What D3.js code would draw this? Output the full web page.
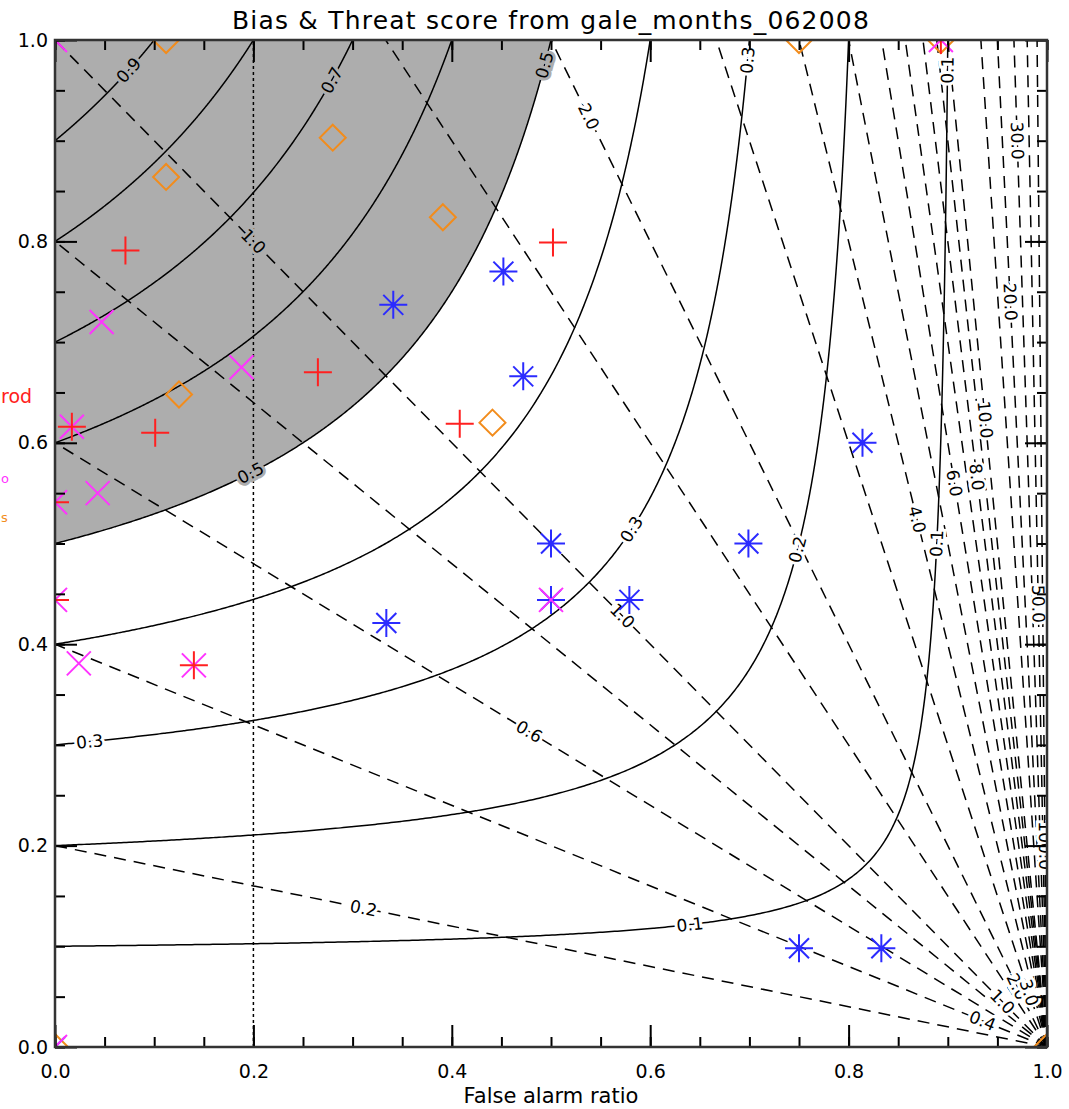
<!DOCTYPE html>
<html>
<head>
<meta charset="utf-8">
<script src="https://cdn.jsdelivr.net/npm/d3@7"></script>
<style>
  body { margin: 0; background: #fff; }
  svg text { font-family: "DejaVu Sans", sans-serif; }
</style>
</head>
<body>
<svg id="chart" width="1069" height="1109"></svg>
<script>
// threat score (CSI) and bias levels drawn as contours
const csiLevels = [0.1, 0.2, 0.3, 0.4, 0.5, 0.6, 0.7, 0.8, 0.9];
const biasLevels = [0.2, 0.4, 0.6, 0.8, 1.0, 1.5, 2.0, 3.0, 4.0, 5.0, 6.0, 7.0, 8.0, 9.0, 10.0, 15.0, 20.0, 30.0, 50.0, 100.0];
const shadeLevel = 0.5;
const xTicks = [0.0, 0.2, 0.4, 0.6, 0.8, 1.0];
const yTicks = [0.0, 0.2, 0.4, 0.6, 0.8, 1.0];

// series: false alarm ratio / probability of detection
const plusFAR = [0.071, 0.502, 0.265, 0.101, 0.408, 0.017, 0.0, 0.0, 0.140, 0.0, 0.893];
const plusPOD = [0.791, 0.799, 0.670, 0.610, 0.619, 0.616, 0.541, 0.444, 0.379, 1.0, 1.0];

const crossFAR = [0.047, 0.188, 0.043, 0.017, 0.0, 0.0, 0.024, 0.140, 0.500, 0.0, 0.893, 0.0];
const crossPOD = [0.720, 0.675, 0.550, 0.616, 0.541, 0.444, 0.381, 0.379, 0.444, 1.0, 1.0, 0.0];

const diamondFAR = [0.112, 0.280, 0.112, 0.391, 0.125, 0.441, 0.750, 0.893, 1.0, 0.0];
const diamondPOD = [0.864, 0.903, 1.0, 0.824, 0.648, 0.620, 1.0, 1.0, 0.0, 0.0];

const starFAR = [0.341, 0.452, 0.472, 0.500, 0.500, 0.579, 0.334, 0.814, 0.699, 0.750, 0.833, 0.0];
const starPOD = [0.737, 0.770, 0.666, 0.500, 0.444, 0.444, 0.421, 0.600, 0.500, 0.098, 0.098, 0.0];

// contour labels: level plus the POD (or FAR) where it sits
const csiLabelLevel = [0.9, 0.7, 0.5, 0.5, 0.3, 0.3, 0.3, 0.2, 0.1, 0.1, 0.1];
const csiLabelAt    = ["y", "y", "y", "y", "x", "y", "y", "y", "y", "y", "x"];
const csiLabelVal   = [0.97, 0.96, 0.975, 0.57, 0.035, 0.98, 0.514, 0.494, 0.97, 0.5, 0.64];

const biasLabelLevel = [1.0, 1.0, 2.0, 0.6, 0.2, 4.0, 6.0, 8.0, 10.0, 20.0, 30.0, 50.0, 100.0, 0.4, 1.0, 2.0, 3.0];
const biasLabelAt    = ["x", "x", "x", "x", "x", "y", "y", "y", "y", "y", "y", "y", "y", "x", "x", "x", "x"];
const biasLabelVal   = [0.2, 0.572, 0.538, 0.478, 0.311, 0.524, 0.56, 0.566, 0.623, 0.74, 0.9, 0.44, 0.2, 0.935, 0.955, 0.97, 0.982];

const svg = d3.select("#chart");
const x = d3.scaleLinear().domain([0, 1]).range([55, 1047]);
const y = d3.scaleLinear().domain([0, 1]).range([1047, 40]);

svg.append("defs").append("clipPath").attr("id", "plotclip")
  .append("rect")
  .attr("x", x(0)).attr("y", y(1))
  .attr("width", x(1) - x(0)).attr("height", y(0) - y(1));

const plot = svg.append("g").attr("clip-path", "url(#plotclip)");

// far as a function of pod along a csi curve, and the reverse
function csiFar(c, pod) { return 1 - 1 / (1 / c + 1 - 1 / pod); }
function csiPod(c, far) { return 1 / (1 / c + 1 - 1 / (1 - far)); }
function csiPoints(c) {
  let pts = [];
  for (let i = 0; i <= 300; i++) {
    let f = (1 - c) * i / 300;
    pts.push([f, csiPod(c, f)]);
    let p = c + (1 - c) * i / 300;
    pts.push([csiFar(c, p), p]);
  }
  pts.sort((a, b) => a[0] - b[0]);
  return pts;
}
function csiValue(far, pod) { return 1 / (1 / pod + 1 / (1 - far) - 1); }

const line = d3.line().x(d => x(d[0])).y(d => y(d[1]));

// shaded area of csi above the shade level
let shade = csiPoints(shadeLevel);
shade.push([0, 1]);
plot.append("path")
  .attr("d", line(shade) + "Z")
  .attr("fill", "#adadad")
  .attr("stroke", "none");

// solid csi curves
plot.append("g").selectAll("path")
  .data(csiLevels)
  .enter().append("path")
  .attr("d", c => line(csiPoints(c)))
  .attr("fill", "none")
  .attr("stroke", "#000")
  .attr("stroke-width", 1.5);

// dashed bias lines fanning from (1, 0)
function biasEnd(b) { return b <= 1 ? [0, b] : [1 - 1 / b, 1]; }
plot.append("g").selectAll("line")
  .data(biasLevels)
  .enter().append("line")
  .attr("x1", x(1)).attr("y1", y(0))
  .attr("x2", b => x(biasEnd(b)[0]))
  .attr("y2", b => y(biasEnd(b)[1]))
  .attr("stroke", "#000")
  .attr("stroke-width", 1.5)
  .attr("stroke-dasharray", "12,8");

// dotted reference at far = 0.2
plot.append("line")
  .attr("x1", x(0.2)).attr("x2", x(0.2))
  .attr("y1", y(0)).attr("y2", y(1))
  .attr("stroke", "#000")
  .attr("stroke-width", 1.5)
  .attr("stroke-dasharray", "3,3");

// contour labels
function addLabel(g, fx, fy, px, py, txt) {
  let a = Math.atan2(y(py) - y(fy), x(px) - x(fx)) * 180 / Math.PI;
  if (a > 90) a -= 180;
  if (a < -90) a += 180;
  let bg = csiValue(Math.min(fx, 0.999), Math.max(fy, 0.001)) >= shadeLevel ? "#adadad" : "#fff";
  g.append("text")
    .attr("transform", "translate(" + x(fx) + "," + y(fy) + ") rotate(" + a + ")")
    .attr("text-anchor", "middle")
    .attr("dy", "0.35em")
    .attr("font-size", 17)
    .attr("stroke", bg)
    .attr("stroke-width", 6)
    .attr("paint-order", "stroke")
    .attr("fill", "#000")
    .text(txt);
}
const labels = plot.append("g");
csiLabelLevel.forEach((c, i) => {
  let f, p, f2, p2;
  if (csiLabelAt[i] == "y") {
    p = csiLabelVal[i]; f = csiFar(c, p);
    p2 = p + 0.003; f2 = csiFar(c, p2);
  } else {
    f = csiLabelVal[i]; p = csiPod(c, f);
    f2 = f + 0.003; p2 = csiPod(c, f2);
  }
  addLabel(labels, f, p, f2, p2, c.toFixed(1));
});
biasLabelLevel.forEach((b, i) => {
  let f, p;
  if (biasLabelAt[i] == "y") { p = biasLabelVal[i]; f = 1 - p / b; }
  else { f = biasLabelVal[i]; p = b * (1 - f); }
  addLabel(labels, f, p, f + 0.001, b * (1 - f - 0.001), b.toFixed(1));
});

// markers
const markers = plot.append("g").attr("fill", "none").attr("stroke-width", 2);
function drawSeries(fars, pods, d, color, dot) {
  fars.forEach((f, i) => {
    let g = markers.append("g").attr("transform", "translate(" + x(f) + "," + y(pods[i]) + ")");
    g.append("path").attr("d", d).attr("stroke", color);
    if (dot) g.append("circle").attr("r", 2.5).attr("fill", color).attr("stroke", "none");
  });
}
drawSeries(diamondFAR, diamondPOD, "M0,-13L13,0L0,13L-13,0Z", "#f28c1c", false);
drawSeries(starFAR, starPOD, "M-14,0H14M0,-14V14M-10,-10L10,10M-10,10L10,-10", "#2b2bff", true);
drawSeries(crossFAR, crossPOD, "M-12,-12L12,12M-12,12L12,-12", "#ff33ff", false);
drawSeries(plusFAR, plusPOD, "M-14,0H14M0,-14V14", "#ff2020", false);

// axes: ticks point inward on all four sides
function axis(gen, tr, vals, size) {
  let g = svg.append("g").attr("transform", tr)
    .call(gen.tickValues(vals).tickSize(size).tickSizeOuter(0).tickFormat(() => ""));
  g.select(".domain").remove();
  g.selectAll("line").attr("stroke", "#000").attr("stroke-width", 2);
  return g;
}
const minor = d3.range(0, 1.0001, 0.05);
const fmt = d3.format(".1f");

axis(d3.axisBottom(x), "translate(0," + y(0) + ")", minor, -10);
axis(d3.axisTop(x), "translate(0," + y(1) + ")", minor, -10);
axis(d3.axisLeft(y), "translate(" + x(0) + ",0)", minor, -10);
axis(d3.axisRight(y), "translate(" + x(1) + ",0)", minor, -10);
axis(d3.axisTop(x), "translate(0," + y(1) + ")", xTicks, -22);
axis(d3.axisRight(y), "translate(" + x(1) + ",0)", yTicks, -22);

const bx = svg.append("g").attr("transform", "translate(0," + y(0) + ")")
  .call(d3.axisBottom(x).tickValues(xTicks).tickSize(-22).tickSizeOuter(0).tickFormat(fmt).tickPadding(18));
bx.select(".domain").remove();
bx.selectAll("line").attr("stroke", "#000").attr("stroke-width", 2);
bx.selectAll("text").attr("font-size", 19).attr("fill", "#000").attr("font-family", "DejaVu Sans");

const ly = svg.append("g").attr("transform", "translate(" + x(0) + ",0)")
  .call(d3.axisLeft(y).tickValues(yTicks).tickSize(-22).tickSizeOuter(0).tickFormat(fmt).tickPadding(7));
ly.select(".domain").remove();
ly.selectAll("line").attr("stroke", "#000").attr("stroke-width", 2);
ly.selectAll("text").attr("font-size", 19).attr("fill", "#000").attr("font-family", "DejaVu Sans");

// frame
svg.append("rect")
  .attr("x", x(0)).attr("y", y(1))
  .attr("width", x(1) - x(0)).attr("height", y(0) - y(1))
  .attr("fill", "none").attr("stroke", "#333").attr("stroke-width", 2.5);

// title and axis title
svg.append("text")
  .attr("x", (x(0) + x(1)) / 2).attr("y", 29)
  .attr("text-anchor", "middle")
  .attr("font-size", 25)
  .attr("letter-spacing", 1.2)
  .attr("fill", "#000")
  .text("Bias & Threat score from gale_months_062008");

svg.append("text")
  .attr("x", (x(0) + x(1)) / 2).attr("y", 1103)
  .attr("text-anchor", "middle")
  .attr("font-size", 21)
  .attr("fill", "#000")
  .text("False alarm ratio");

// legend at the left edge
const legendNames = ["rod", "o", "s"];
const legendColors = ["#ff2020", "#ff33ff", "#f28c1c"];
const legendY = [403, 483, 522];
svg.append("g").selectAll("text")
  .data(legendNames)
  .enter().append("text")
  .attr("x", 1)
  .attr("y", (d, i) => legendY[i])
  .attr("font-size", (d, i) => i == 0 ? 19 : 13)
  .attr("fill", (d, i) => legendColors[i])
  .text(d => d);
</script>
</body>
</html>
